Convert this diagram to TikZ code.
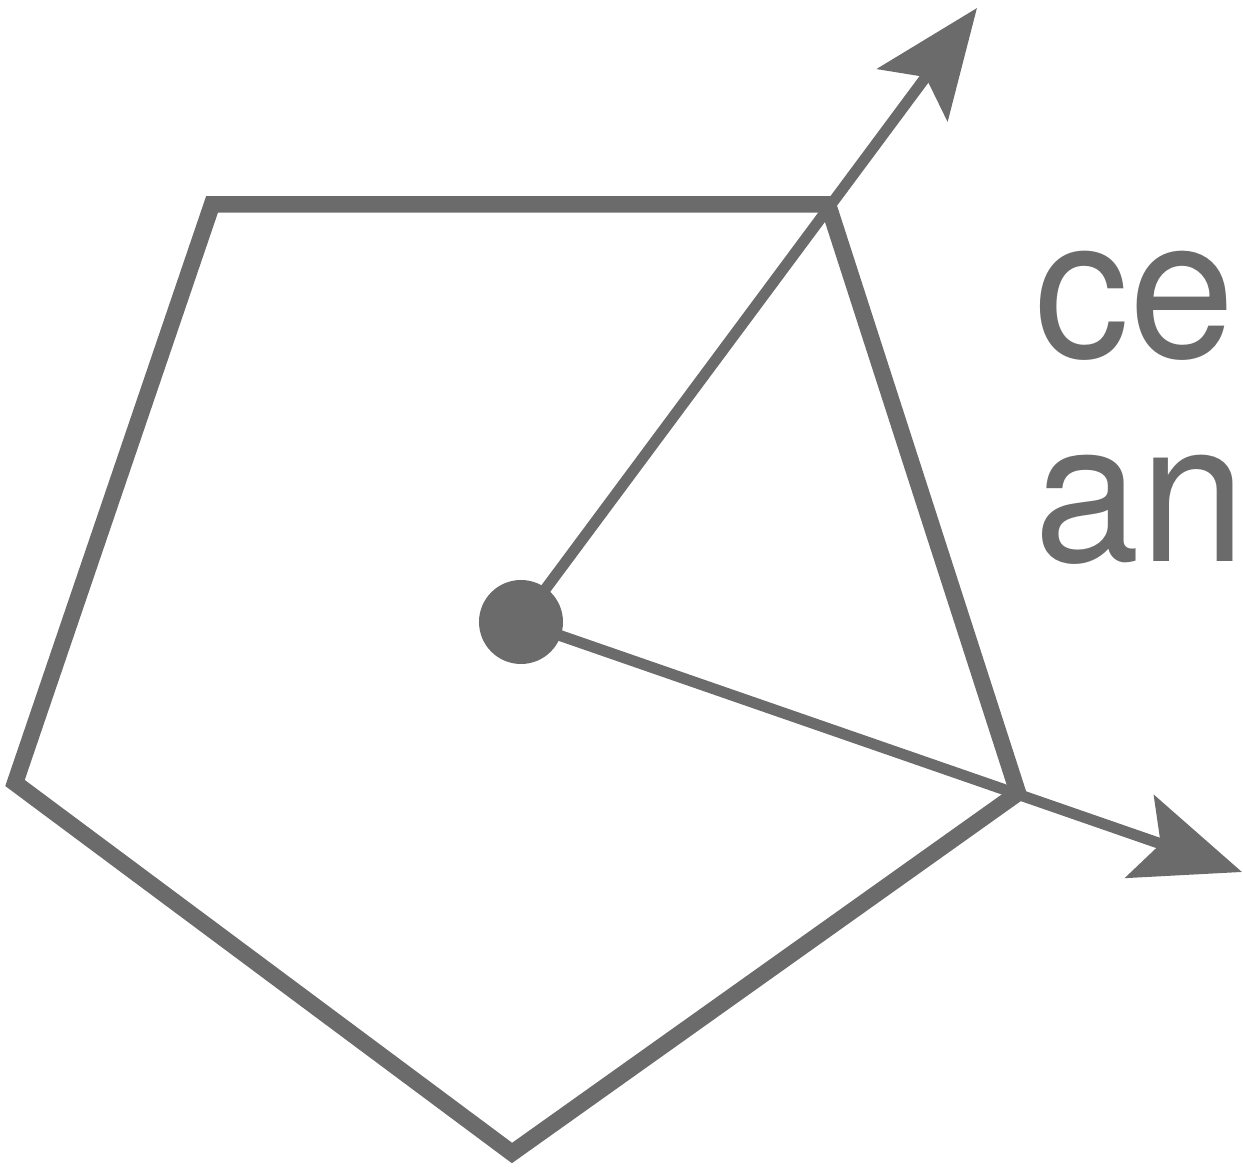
\documentclass[tikz,border=0pt]{standalone}
\usepackage{fontspec}
\setmainfont{TeX Gyre Heros}
\usetikzlibrary{arrows.meta}
\definecolor{penGray}{HTML}{6B6B6B}
\begin{document}
\begin{tikzpicture}[
  every node/.style={text=penGray},
  edge/.style={draw=penGray, line width=0.165cm, line join=miter},
  ray/.style={draw=penGray, line width=0.11cm, -{Stealth[length=1.08cm, width=0.87cm, inset=0.22cm]}},
  dot/.style={circle, fill=penGray, minimum size=0.84cm, inner sep=0pt},
  lbl/.style={font=\fontsize{54}{56}\selectfont, align=left, inner sep=0pt, anchor=base west, yscale=1.04, transform shape}
]
\useasboundingbox (0,0) rectangle (12.43,11.68);

% Ecken des Fünfecks
\coordinate (v1) at (2.12, 9.635);
\coordinate (v2) at (8.28, 9.635);
\coordinate (v3) at (10.18, 3.75);
\coordinate (v4) at (5.12, 0.15);
\coordinate (v5) at (0.15, 3.85);

% Fünfeck
\draw[edge] (v1) -- (v2) -- (v3) -- (v4) -- (v5) -- cycle;

% Mittelpunkt
\node[dot] (o) at (5.21, 5.46) {};

% Pfeilspitzen
\coordinate (t1) at (9.77, 11.60);
\coordinate (t2) at (12.42, 2.96);

% Strahlen
\draw[ray] (o.center) -- (t1);
\draw[ray] (o.center) -- (t2);

% Beschriftung
\node[lbl] (txt) at (10.34, 6.06) {ce\\an};
\end{tikzpicture}
\end{document}
